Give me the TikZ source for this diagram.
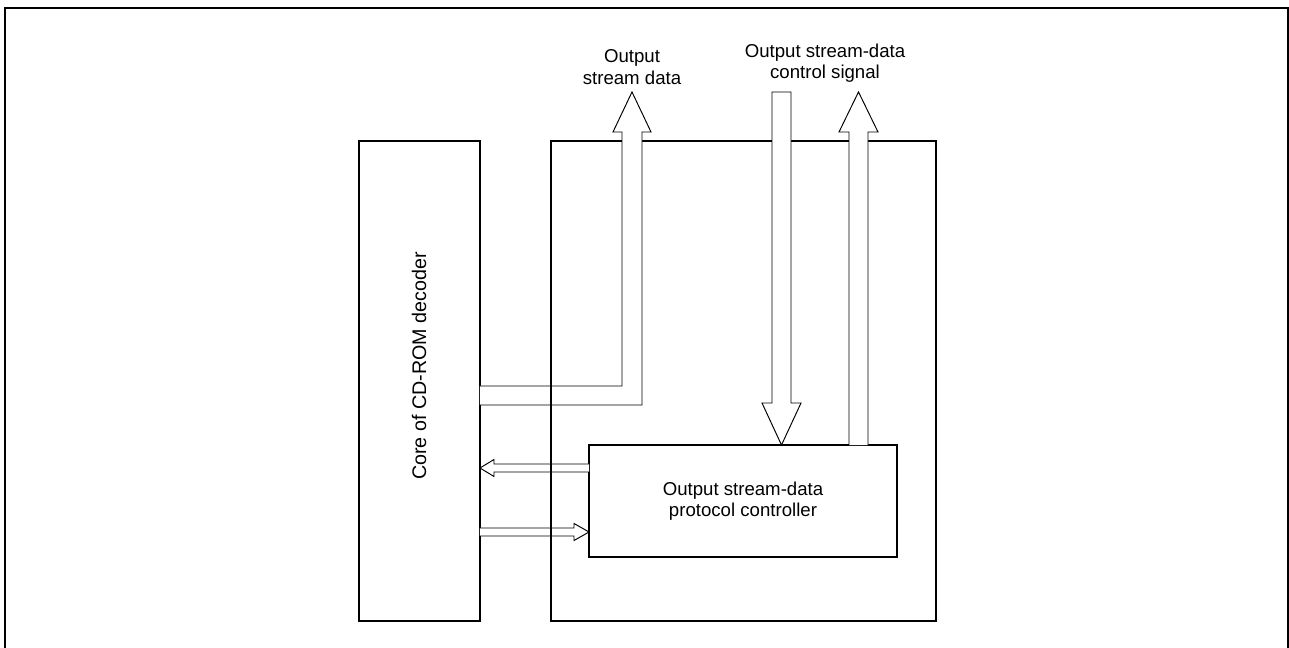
\documentclass[tikz,border=0pt]{standalone}
\usepackage{fontspec}
\setmainfont{Liberation Sans}
\usetikzlibrary{positioning}

\begin{document}
\begin{tikzpicture}[x=0.02cm,y=-0.02cm,
box/.style={draw,line width=1.1pt,inner sep=0pt,outer sep=0pt},
fat/.style={draw,fill=white,line width=0.55pt,line join=miter},
lab/.style={align=center,font=\fontsize{10.6}{12.2}\selectfont}]
\useasboundingbox (0,0) rectangle (1289,648);
\draw[line width=1.4pt] (5,648)--(5,8)--(1288,8)--(1288,648);
\node[box,minimum width=2.42cm,minimum height=9.6cm] (core) at (419.5,381) {};
\node[lab,rotate=90,font=\fontsize{11.2}{13}\selectfont] (corelab) at (419,366) {Core of CD-ROM decoder};
\node[box,minimum width=7.7cm,minimum height=9.6cm] (unit) at (743.5,381) {};
\node[box,lab,minimum width=6.16cm,minimum height=2.24cm] (ctrl) at (743,501) {Output stream-data\\protocol controller};
\coordinate (dout) at (632,92);
\coordinate (cin) at (781.5,92);
\coordinate (cout) at (858.5,92);
\node[lab] (doutlab) at (632,67) {Output\\stream data};
\node[lab] (cinlab) at (825,63) {Output stream-data\\control signal};
% wide arrows
\draw[fat] (core.east |- 0,386)--(622,386)--(622,132)--(613,132)--(dout)--(651,132)--(642,132)--(642,405)--(core.east |- 0,405);
\draw[fat] (cin -| 772,0)--(cin -| 791,0)--(791,403)--(801,403)--(ctrl.north -| cin)--(762,403)--(772,403)--cycle;
\draw[fat] (ctrl.north -| 849,0)--(849,132)--(839,132)--(cout)--(878,132)--(868,132)--(ctrl.north -| 868,0);
% narrow arrows
\draw[fat] (ctrl.west |- 0,464)--(494,464)--(494,459.5)--(core.east |- 0,468)--(494,476.5)--(494,472)--(ctrl.west |- 0,472);
\draw[fat] (core.east |- 0,528)--(574,528)--(574,523.5)--(ctrl.west |- 0,532)--(574,540.5)--(574,536)--(core.east |- 0,536);
\draw[line width=1.1pt] (unit.north west)--(unit.south west);
\end{tikzpicture}
\end{document}
